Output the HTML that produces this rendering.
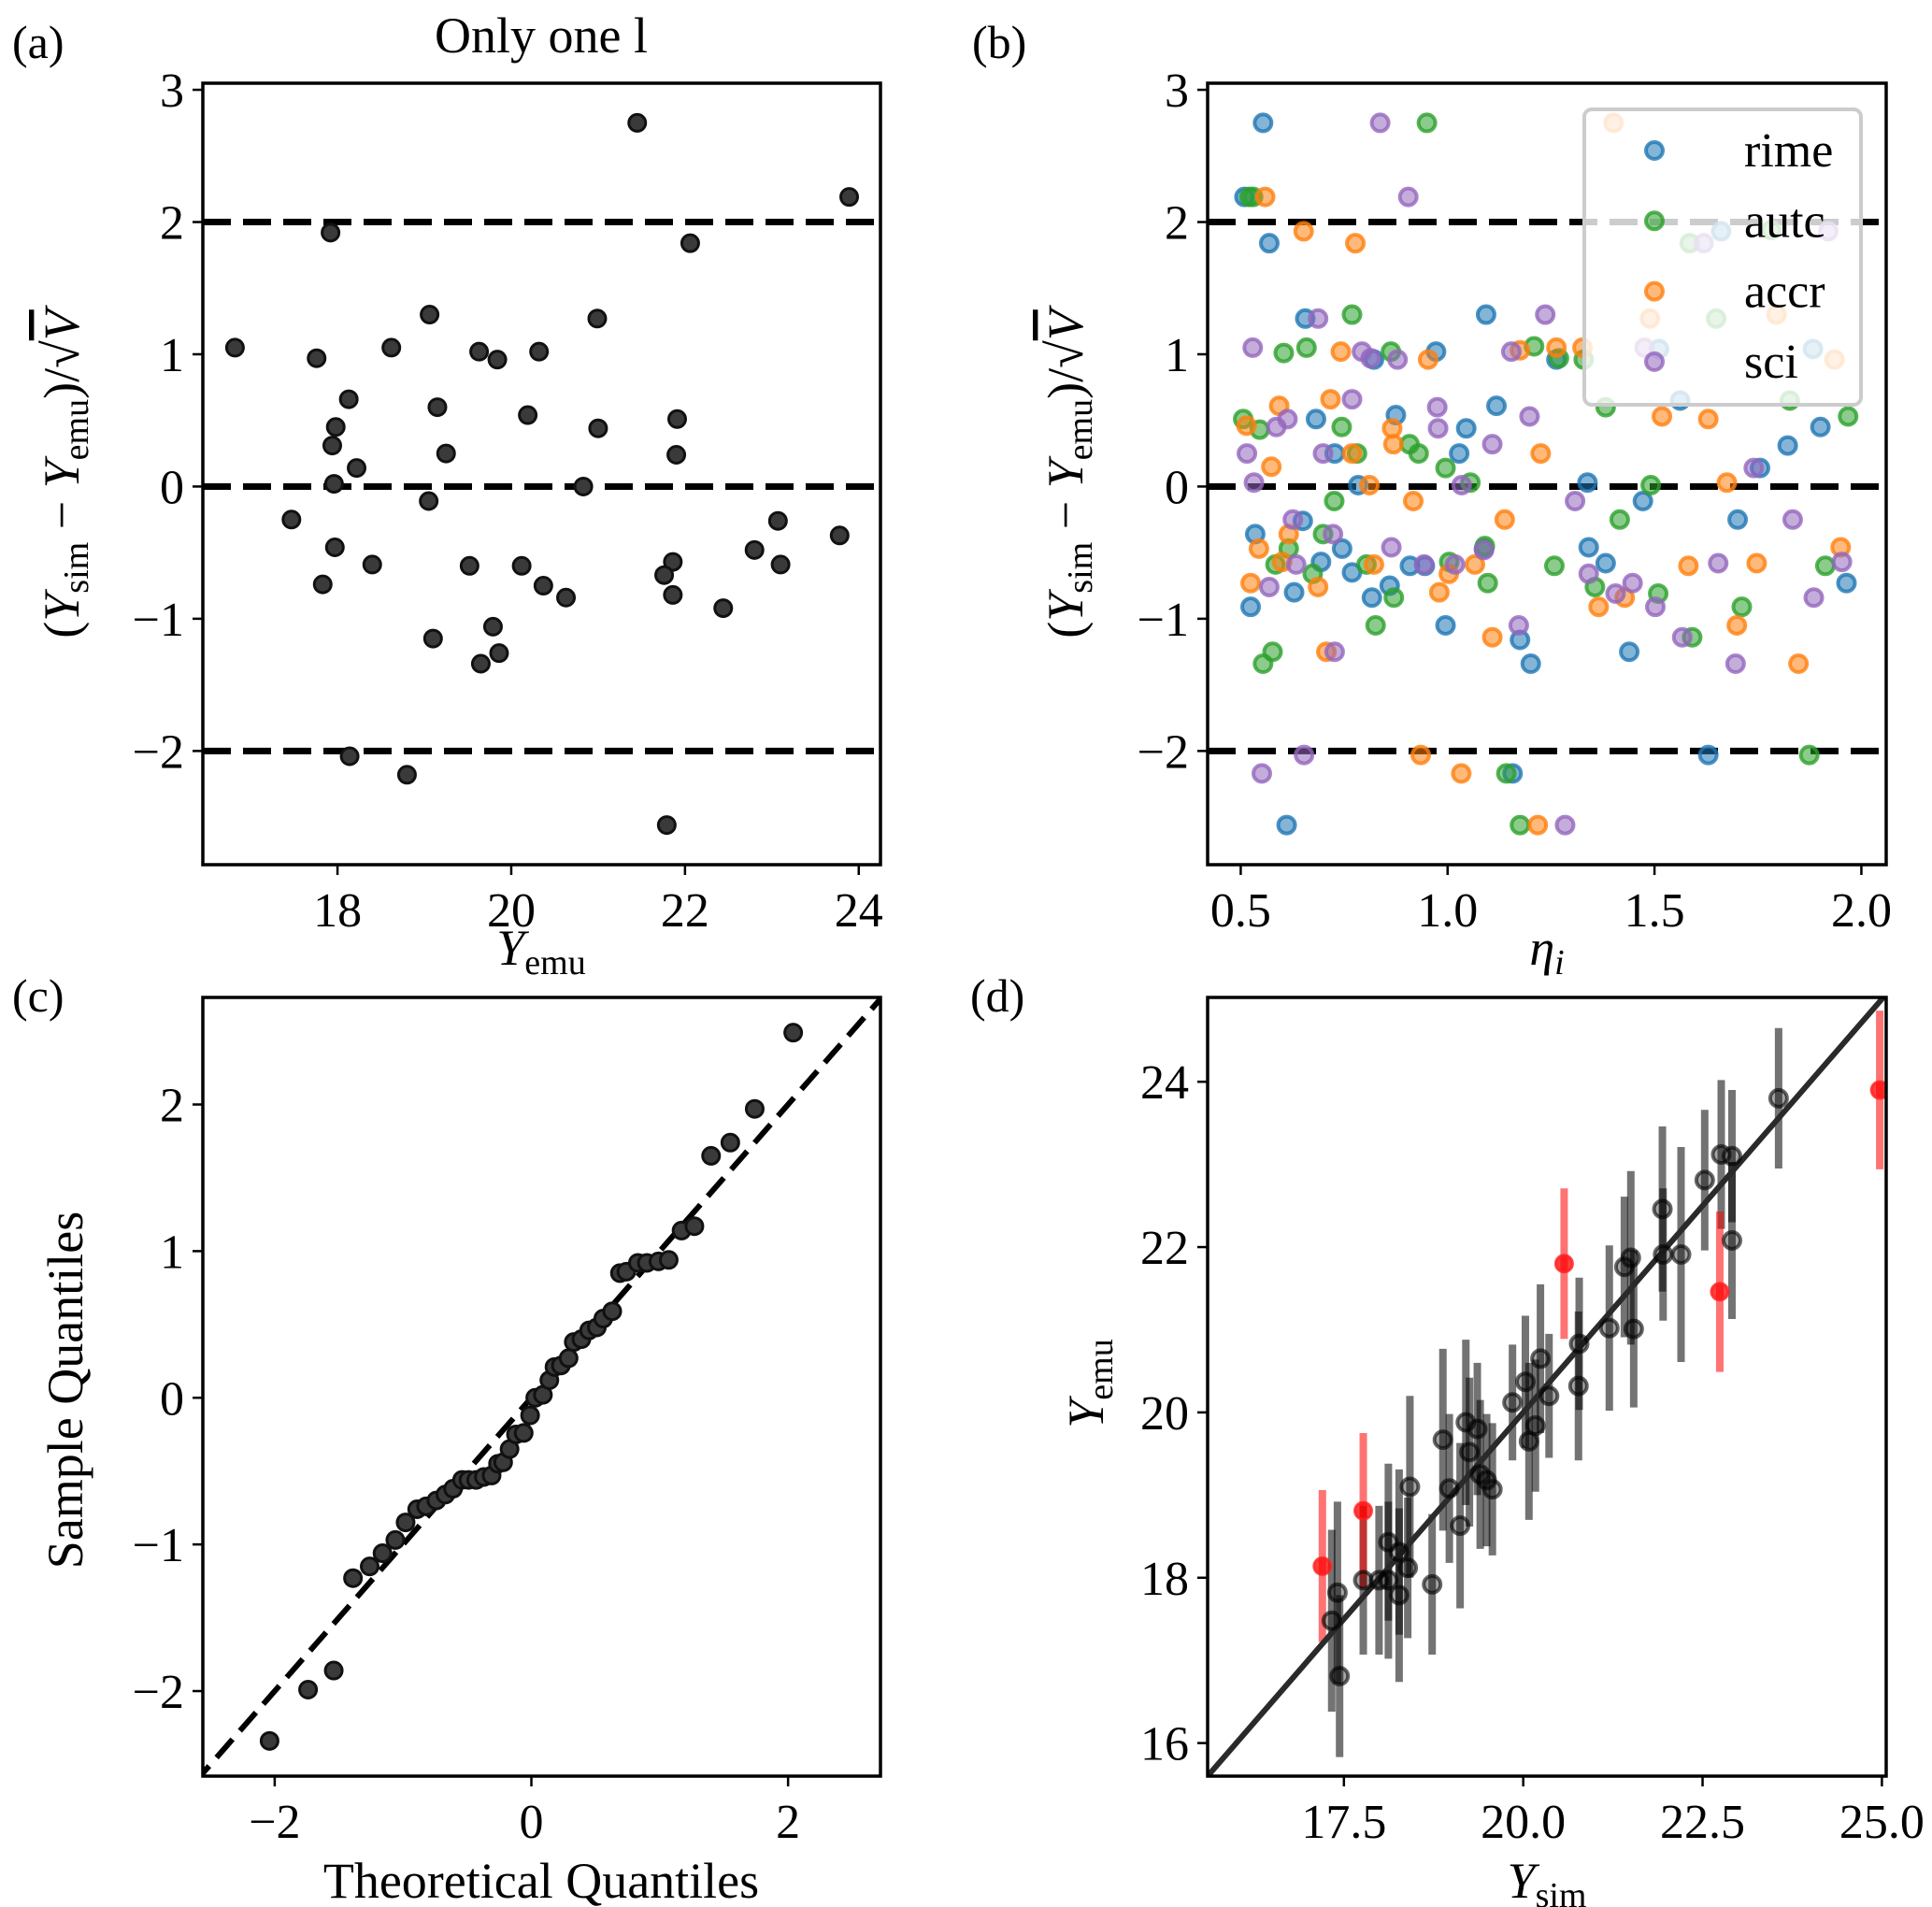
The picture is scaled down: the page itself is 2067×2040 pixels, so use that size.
<!DOCTYPE html>
<html><head><meta charset="utf-8"><style>
html,body{margin:0;padding:0;background:#fff}
svg{display:block}
text{font-family:"Liberation Serif",serif;fill:#000}
</style></head><body>
<svg id="fig" xmlns="http://www.w3.org/2000/svg" width="2067" height="2040" viewBox="0 0 2067 2040">
<defs>
<clipPath id="clipA"><rect x="217" y="89" width="725" height="836"/></clipPath>
<clipPath id="clipB"><rect x="1292" y="89" width="726" height="836"/></clipPath>
<clipPath id="clipC"><rect x="217" y="1067" width="725" height="833"/></clipPath>
<clipPath id="clipD"><rect x="1292" y="1067" width="726" height="833"/></clipPath>
</defs>
<g id="layer"></g>
<text x="13" y="62" font-size="50">(a)</text>
<text x="1040" y="62" font-size="50">(b)</text>
<text x="13" y="1082" font-size="50">(c)</text>
<text x="1038" y="1082" font-size="50">(d)</text>
<text x="579" y="56" font-size="54" text-anchor="middle">Only one l</text>
<text x="579" y="1032" font-size="54" text-anchor="middle"><tspan font-style="italic">Y</tspan><tspan font-size="38" dy="10">emu</tspan></text>
<text x="1655" y="1032" font-size="54" text-anchor="middle"><tspan font-style="italic">η</tspan><tspan font-size="38" dy="10" font-style="italic">i</tspan></text>
<text x="579" y="2030" font-size="54" text-anchor="middle">Theoretical Quantiles</text>
<text x="1655" y="2030" font-size="54" text-anchor="middle"><tspan font-style="italic">Y</tspan><tspan font-size="38" dy="10">sim</tspan></text>
<text transform="translate(84,507) rotate(-90)" font-size="54" text-anchor="middle">(<tspan font-style="italic">Y</tspan><tspan font-size="38" dy="10">sim</tspan><tspan dy="-10"> − </tspan><tspan font-style="italic">Y</tspan><tspan font-size="38" dy="10">emu</tspan><tspan dy="-10">)/√</tspan><tspan font-style="italic" text-decoration="overline">V</tspan></text>
<text transform="translate(1158,507) rotate(-90)" font-size="54" text-anchor="middle">(<tspan font-style="italic">Y</tspan><tspan font-size="38" dy="10">sim</tspan><tspan dy="-10"> − </tspan><tspan font-style="italic">Y</tspan><tspan font-size="38" dy="10">emu</tspan><tspan dy="-10">)/√</tspan><tspan font-style="italic" text-decoration="overline">V</tspan></text>
<text transform="translate(88,1487) rotate(-90)" font-size="54" text-anchor="middle">Sample Quantiles</text>
<text transform="translate(1180,1480) rotate(-90)" font-size="54" text-anchor="middle"><tspan font-style="italic">Y</tspan><tspan font-size="38" dy="10">emu</tspan></text>
</svg>
<script>
// ---- Panel (a) data ----
const aX = [16.82,21.45,23.89,17.92,22.06,19.06,20.99,17.76,18.62,19.63,19.84,20.32,18.13,19.15,20.19,17.98,21.00,21.91,17.94,19.25,21.90,18.22,17.96,20.83,17.47,19.05,23.07,23.78,17.97,18.40,19.52,20.12,22.80,23.10,21.86,21.76,17.83,20.37,20.63,21.86,22.44,19.79,19.10,19.86,19.65,18.14,18.80,21.79];
const aY = [1.05,2.75,2.19,1.92,1.84,1.30,1.27,0.97,1.05,1.02,0.96,1.02,0.66,0.60,0.54,0.45,0.44,0.51,0.31,0.25,0.24,0.14,0.02,0.00,-0.25,-0.11,-0.26,-0.37,-0.46,-0.59,-0.60,-0.60,-0.48,-0.59,-0.57,-0.67,-0.74,-0.75,-0.84,-0.82,-0.92,-1.06,-1.15,-1.26,-1.34,-2.04,-2.18,-2.56];
const refLines = [2,0,-2];
const aXTicks = [18,20,22,24];
const abYTicks = [-2,-1,0,1,2,3];
// ---- Panel (b) data ----
const rimeX = [0.554,0.509,0.569,0.656,0.682,0.727,0.784,0.535,0.524,0.650,0.694,0.745,0.769,0.629,0.817,0.860,0.822,0.875,0.909,0.972,0.995,1.028,1.045,1.093,1.118,1.088,1.175,1.201,1.157,0.611,1.263,1.338,1.341,1.382,1.439,1.472,1.511,1.562,1.630,1.661,1.701,1.755,1.822,1.883,1.901,1.964,0.945];
const rimeY = [2.75,2.19,1.84,1.27,0.51,0.25,0.01,-0.36,-0.91,-0.26,-0.57,-0.47,-0.65,-0.80,-0.84,-0.75,0.96,0.54,-0.60,1.02,-1.05,0.25,0.44,1.30,0.61,-0.47,-1.16,-1.34,-2.17,-2.56,0.96,0.03,-0.46,-0.58,-1.25,-0.11,1.04,0.65,-2.03,1.93,-0.25,0.14,0.31,1.04,0.45,-0.73,-0.60];
const autcX = [0.950,0.521,0.530,0.769,0.604,0.659,0.863,0.506,0.546,0.744,0.781,0.908,0.930,0.995,1.055,0.726,0.699,0.616,0.584,0.674,0.804,0.870,0.826,0.554,0.577,1.004,1.090,1.097,1.142,1.175,1.209,1.269,1.329,1.258,1.382,1.356,1.416,1.491,1.509,1.585,1.591,1.649,1.711,1.782,1.827,1.874,1.913,1.968];
const autcY = [2.75,2.19,2.19,1.30,1.01,1.05,1.02,0.51,0.43,0.45,0.25,0.32,0.25,0.14,0.03,-0.11,-0.36,-0.47,-0.59,-0.66,-0.59,-0.84,-1.05,-1.34,-1.25,-0.57,-0.45,-0.73,-2.17,-2.56,1.06,0.97,0.96,-0.60,0.60,-0.76,-0.25,0.01,-0.81,1.84,-1.14,1.27,-0.91,1.94,0.65,-2.03,-0.60,0.53];
const accrX = [0.559,0.652,0.777,0.742,0.953,0.593,0.717,0.514,0.866,0.869,0.769,0.574,0.811,0.917,0.616,0.544,0.600,0.822,0.524,0.687,0.707,0.980,1.003,1.066,1.108,1.138,1.225,1.175,1.263,1.326,0.935,1.033,1.218,1.401,1.365,1.428,1.489,1.518,1.582,1.630,1.675,1.699,1.747,1.795,1.848,1.935,1.950];
const accrY = [2.19,1.93,1.84,1.02,0.96,0.61,0.66,0.46,0.44,0.32,0.25,0.15,0.01,-0.11,-0.36,-0.47,-0.57,-0.59,-0.73,-0.76,-1.25,-0.80,-0.66,-0.59,-1.14,-0.25,0.25,1.03,1.05,1.05,-2.03,-2.17,-2.56,2.75,-0.91,-0.84,1.27,0.53,-0.60,0.51,0.03,-1.05,-0.58,1.30,-1.34,0.96,-0.46];
const sciX = [0.837,0.905,0.687,0.529,0.793,0.814,0.879,0.769,0.613,0.586,0.975,0.977,0.515,0.699,0.532,1.108,1.198,1.034,1.236,1.154,0.626,0.723,0.634,0.569,0.864,0.943,1.018,1.088,1.172,0.727,0.551,0.653,1.284,1.308,1.341,1.406,1.447,1.502,1.476,1.567,1.619,1.654,1.740,1.696,1.834,1.885,1.920,1.953];
const sciY = [2.75,2.19,1.27,1.05,1.02,0.97,0.96,0.66,0.51,0.45,0.60,0.44,0.25,0.25,0.03,0.32,0.53,0.01,1.30,1.02,-0.25,-0.36,-0.59,-0.76,-0.46,-0.59,-0.59,-0.48,-1.05,-1.25,-2.17,-2.03,-2.56,-0.11,-0.66,-0.81,-0.73,-0.91,1.05,-1.14,1.84,-0.58,0.14,-1.34,-0.25,-0.84,1.93,-0.57];
const seriesNames = ["rime","autc","accr","sci"];
const bXTicks = [0.5,1.0,1.5,2.0];
const bXTickLabels = ["0.5","1.0","1.5","2.0"];
// ---- Panel (c) data ----
const cX = [-2.04,-1.74,-1.54,-1.39,-1.26,-1.16,-1.06,-0.98,-0.89,-0.82,-0.74,-0.67,-0.61,-0.54,-0.49,-0.43,-0.37,-0.31,-0.26,-0.22,-0.17,-0.12,-0.06,-0.01,0.03,0.09,0.14,0.18,0.23,0.29,0.33,0.39,0.45,0.51,0.56,0.63,0.69,0.74,0.83,0.90,0.99,1.07,1.17,1.27,1.40,1.55,1.74,2.04];
const cY = [-2.34,-1.99,-1.86,-1.23,-1.15,-1.06,-0.97,-0.85,-0.76,-0.74,-0.70,-0.66,-0.62,-0.56,-0.56,-0.56,-0.54,-0.53,-0.45,-0.44,-0.35,-0.25,-0.24,-0.12,0.00,0.02,0.12,0.21,0.22,0.27,0.38,0.40,0.46,0.48,0.54,0.59,0.85,0.86,0.92,0.92,0.93,0.94,1.14,1.17,1.65,1.74,1.97,2.49];
const cXTicks = [-2,0,2];
const cYTicks = [-2,-1,0,1,2];
// ---- Panel (d) data ----
const dBlackX = [17.33,17.41,17.44,17.77,17.99,18.12,18.12,18.27,18.27,18.39,18.42,18.73,18.88,18.97,19.12,19.20,19.25,19.36,19.40,19.49,19.57,19.85,20.03,20.08,20.17,20.24,20.36,20.77,20.78,21.20,21.41,21.50,21.54,21.94,21.95,22.20,22.53,22.76,22.91,22.91,23.56];
const dBlackY = [17.48,17.82,16.81,17.97,17.97,17.97,18.43,17.79,18.31,18.12,19.10,17.92,19.67,19.08,18.63,19.88,19.52,19.80,19.25,19.18,19.07,20.12,20.37,19.65,19.84,20.65,20.20,20.32,20.83,21.02,21.76,21.87,21.01,22.46,21.91,21.91,22.81,23.12,23.10,22.08,23.80];
const dBlackErr = [1.1,1.1,0.98,0.9,0.9,0.95,0.95,1.05,1.0,0.85,1.1,0.85,1.1,0.9,1.0,1.0,0.9,0.8,0.9,0.8,0.8,0.7,0.8,0.95,0.8,0.9,0.75,0.9,0.8,1.0,0.85,1.05,0.95,1.0,0.8,1.3,0.85,0.9,0.8,0.95,0.85];
const dRedX = [17.20,17.77,20.57,22.74,24.97];
const dRedY = [18.14,18.81,21.80,21.46,23.90];
const dRedErr = [0.92,0.94,0.91,0.97,0.96];
const dXTicks = [17.5,20.0,22.5,25.0];
const dXTickLabels = ["17.5","20.0","22.5","25.0"];
const dYTicks = [16,18,20,22,24];

const NS = "http://www.w3.org/2000/svg";
const layer = document.getElementById('layer');
function el(tag, attrs, parent){
  const e = document.createElementNS(NS, tag);
  for (const k in attrs) e.setAttribute(k, attrs[k]);
  (parent || layer).appendChild(e);
  return e;
}
function scale(d0,d1,p0,p1){ return v => p0 + (v-d0)/(d1-d0)*(p1-p0); }
function fmt(v){ return (v<0?"−":"") + Math.abs(v); }

function axes(P, xticks, xlabels, yticks, ylabels, name){
  const g = el('g', {});
  
  
  xticks.forEach((t,i)=>{
    const x = P.sx(t);
    const tk = el('line', {x1:x, y1:P.y1, x2:x, y2:P.y1+11, stroke:'#000','stroke-width':2.5}, g);
    
    
    const tx = el('text', {x:x, y:P.y1+66, 'font-size':52, 'text-anchor':'middle'}, g);
    
    
    tx.textContent = xlabels ? xlabels[i] : fmt(t);
  });
  yticks.forEach((t,i)=>{
    const y = P.sy(t);
    const tk = el('line', {x1:P.x0-11, y1:y, x2:P.x0, y2:y, stroke:'#000','stroke-width':2.5}, g);
    
    
    const tx = el('text', {x:P.x0-20, y:y+18, 'font-size':52, 'text-anchor':'end'}, g);
    
    
    tx.textContent = ylabels ? ylabels[i] : fmt(t);
  });
  const fr = el('rect', {x:P.x0, y:P.y0, width:P.x1-P.x0, height:P.y1-P.y0, fill:'none', stroke:'#000','stroke-width':3.5}, g);
  
  
}

const A = {x0:217,x1:942,y0:89,y1:925};
A.sx = scale(16.45,24.25,A.x0,A.x1); A.sy = scale(3.05,-2.86,A.y0,A.y1);
const B = {x0:1292,x1:2018,y0:89,y1:925};
B.sx = scale(0.42,2.06,B.x0,B.x1); B.sy = scale(3.05,-2.86,B.y0,B.y1);
const C = {x0:217,x1:942,y0:1067,y1:1900};
C.sx = scale(-2.56,2.72,C.x0,C.x1); C.sy = scale(2.73,-2.58,C.y0,C.y1);
const D = {x0:1292,x1:2018,y0:1067,y1:1900};
D.sx = scale(15.6,25.06,D.x0,D.x1); D.sy = scale(25.02,15.6,D.y0,D.y1);

[[A,'panel-a','clipA'],[B,'panel-b','clipB']].forEach(([P,name,clip])=>{
  const g = el('g', {'clip-path':'url(#'+clip+')'});
  
  
  refLines.forEach(v=>{
    const l = el('line', {x1:P.x0, x2:P.x1, y1:P.sy(v), y2:P.sy(v), stroke:'#000','stroke-width':7,'stroke-dasharray':'30 13'}, g);
    
    
  });
});

const gA = el('g', {'clip-path':'url(#clipA)'});


aX.forEach((x,i)=>{
  const c = el('circle', {cx:A.sx(x), cy:A.sy(aY[i]), r:9, fill:'#3a3a3a', stroke:'#111','stroke-width':3}, gA);
  
  
});
axes(A, aXTicks, null, abYTicks, null, 'panel-a');

const colors = ['#1f77b4','#2ca02c','#ff7f0e','#9467bd'];
const bXs = [rimeX, autcX, accrX, sciX];
const bYs = [rimeY, autcY, accrY, sciY];
const gB = el('g', {'clip-path':'url(#clipB)'});


bXs.forEach((xs,s)=>{
  xs.forEach((x,i)=>{
    const c = el('circle', {cx:B.sx(x), cy:B.sy(bYs[s][i]), r:9, fill:colors[s], 'fill-opacity':0.55, stroke:colors[s], 'stroke-opacity':0.8, 'stroke-width':4}, gB);
    
    
  });
});
const lg = el('g', {});


el('rect', {x:1695, y:117, width:296, height:316, rx:8, fill:'#fff','fill-opacity':0.8, stroke:'#cccccc','stroke-width':4}, lg);
seriesNames.forEach((n,i)=>{
  const y = 161 + i*75.3;
  const e = el('g', {}, lg);
  
  
  el('circle', {cx:1770, cy:y, r:9, fill:colors[i], 'fill-opacity':0.55, stroke:colors[i], 'stroke-opacity':0.8,'stroke-width':4}, e);
  const t = el('text', {x:1866, y:y+17, 'font-size':52}, e);
  t.textContent = n;
});
axes(B, bXTicks, bXTickLabels, abYTicks, null, 'panel-b');

const gC = el('g', {'clip-path':'url(#clipC)'});


const qline = el('line', {x1:C.sx(-3), y1:C.sy(-3), x2:C.sx(3), y2:C.sy(3), stroke:'#000','stroke-width':6,'stroke-dasharray':'26 12'}, gC);


cX.forEach((x,i)=>{
  const c = el('circle', {cx:C.sx(x), cy:C.sy(cY[i]), r:9, fill:'#3a3a3a', stroke:'#111','stroke-width':3}, gC);
  
  
});
axes(C, cXTicks, null, cYTicks, null, 'panel-c');

const gD = el('g', {'clip-path':'url(#clipD)'});


dBlackX.forEach((x,i)=>{
  const b = el('line', {x1:D.sx(x), x2:D.sx(x), y1:D.sy(dBlackY[i]-dBlackErr[i]), y2:D.sy(dBlackY[i]+dBlackErr[i]), stroke:'#000','stroke-opacity':0.55,'stroke-width':8}, gD);
  
  
});
dRedX.forEach((x,i)=>{
  const b = el('line', {x1:D.sx(x), x2:D.sx(x), y1:D.sy(dRedY[i]-dRedErr[i]), y2:D.sy(dRedY[i]+dRedErr[i]), stroke:'#ff0000','stroke-opacity':0.55,'stroke-width':8}, gD);
  
  
});
const diag = el('line', {x1:D.sx(15.6), y1:D.sy(15.6), x2:D.sx(25.06), y2:D.sy(25.06), stroke:'#2a2a2a','stroke-width':6}, gD);


dBlackX.forEach((x,i)=>{
  const c = el('circle', {cx:D.sx(x), cy:D.sy(dBlackY[i]), r:9, fill:'#000','fill-opacity':0.35, stroke:'#000','stroke-opacity':0.6,'stroke-width':4}, gD);
  
  
});
dRedX.forEach((x,i)=>{
  const c = el('circle', {cx:D.sx(x), cy:D.sy(dRedY[i]), r:9, fill:'#ff0000','fill-opacity':0.75, stroke:'#ff2020','stroke-opacity':0.8,'stroke-width':3}, gD);
  
  
});
axes(D, dXTicks, dXTickLabels, dYTicks, null, 'panel-d');
</script>
</body></html>
